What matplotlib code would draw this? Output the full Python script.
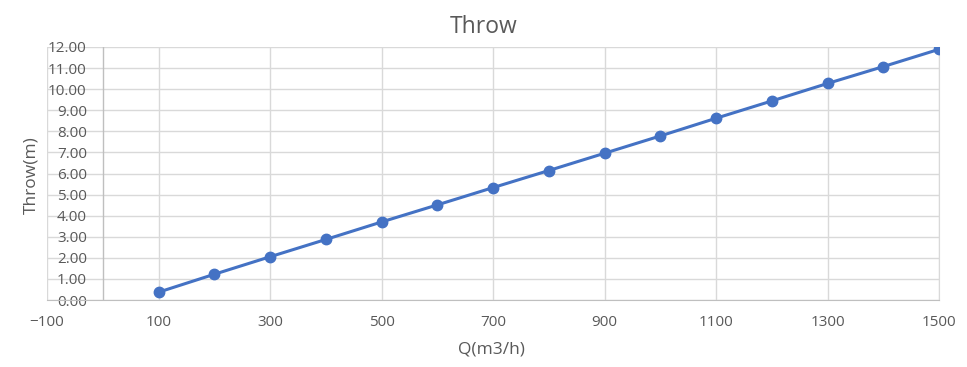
import matplotlib
matplotlib.use('Agg')
import matplotlib.pyplot as plt
import numpy as np

# data
flow = [100, 200, 300, 400, 500, 600, 700, 800, 900, 1000, 1100, 1200, 1300, 1400, 1500]
throw = [0.37, 1.22, 2.05, 2.87, 3.70, 4.51, 5.33, 6.14, 6.96, 7.78, 8.62, 9.44, 10.27, 11.07, 11.89]

x_ticks = np.arange(-100, 1501, 200)
y_ticks = np.arange(0, 12.01, 1)

plt.rcParams['font.family'] = ['Open Sans', 'DejaVu Sans']
text_col = '#595959'
grid_col = '#d9d9d9'

fig = plt.figure(figsize=(9.67, 3.67), dpi=100)
ax = fig.add_axes([47 / 967, 67 / 367, 892 / 967, 253 / 367])

ax.plot(flow, throw, color='#4472C4', linewidth=2.2, marker='o', markersize=7.5, zorder=3)

ax.set_xlim(-100, 1500)
ax.set_ylim(0, 12)
ax.set_xticks(x_ticks)
ax.set_yticks(y_ticks)
ax.set_yticklabels(['%.2f' % v for v in y_ticks])

ax.grid(True, color=grid_col, linewidth=1)
ax.set_axisbelow(True)
ax.spines['top'].set_visible(False)
ax.spines['right'].set_color(grid_col)
# value axis crosses at x = 0 like the spreadsheet chart
ax.spines['left'].set_visible(False)
ax.axvline(0, color='#bfbfbf', linewidth=1, zorder=1)
ax.spines['bottom'].set_color('#bfbfbf')

ax.tick_params(axis='y', length=0, labelsize=11, labelcolor=text_col, pad=0)
ax.tick_params(axis='x', length=0, labelsize=11, labelcolor=text_col, pad=11)
# y labels sit just left of the x = 0 axis line, over the plot area
for lab in ax.get_yticklabels():
    lab.set_horizontalalignment('right')
    lab.set_x(-16 / 892 + 100 / 1600)

fig.text(0.5, 1 - 27 / 367, 'Throw', fontsize=16.5, color=text_col, ha='center', va='center')
fig.text(491 / 967, 1 - 349 / 367, 'Q(m3/h)', fontsize=12.5, color=text_col, ha='center', va='center')
fig.text(31 / 967, 1 - 175 / 367, 'Throw(m)', fontsize=12.5, color=text_col,
         rotation=90, ha='center', va='center')

fig.savefig('out.png', dpi=100)
